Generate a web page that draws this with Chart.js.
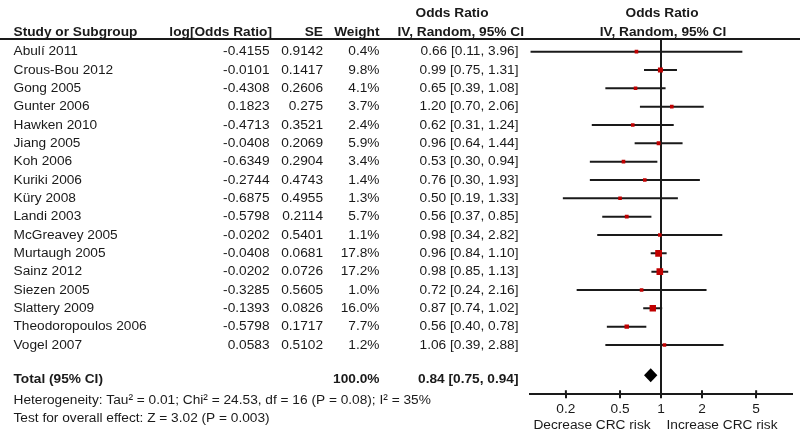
<!DOCTYPE html>
<html>
<head>
<meta charset="utf-8">
<script src="https://cdn.jsdelivr.net/npm/chart.js@4.4.0/dist/chart.umd.min.js"></script>
<style>
  body { margin: 0; background: #fff; }
  #wrap { width: 800px; height: 437px; position: relative; }
</style>
</head>
<body>
<div id="wrap"><canvas id="foret"></canvas></div>
<script>
const etudes = [
  "Abulí 2011", "Crous-Bou 2012", "Gong 2005", "Gunter 2006", "Hawken 2010",
  "Jiang 2005", "Koh 2006", "Kuriki 2006", "Küry 2008", "Landi 2003",
  "McGreavey 2005", "Murtaugh 2005", "Sainz 2012", "Siezen 2005",
  "Slattery 2009", "Theodoropoulos 2006", "Vogel 2007"
];
const logOR = ["-0.4155", "-0.0101", "-0.4308", "0.1823", "-0.4713", "-0.0408", "-0.6349",
  "-0.2744", "-0.6875", "-0.5798", "-0.0202", "-0.0408", "-0.0202", "-0.3285",
  "-0.1393", "-0.5798", "0.0583"];
const erreurStd = ["0.9142", "0.1417", "0.2606", "0.275", "0.3521", "0.2069", "0.2904",
  "0.4743", "0.4955", "0.2114", "0.5401", "0.0681", "0.0726", "0.5605",
  "0.0826", "0.1717", "0.5102"];
const poids = [0.4, 9.8, 4.1, 3.7, 2.4, 5.9, 3.4, 1.4, 1.3, 5.7, 1.1, 17.8, 17.2, 1.0, 16.0, 7.7, 1.2];
const oddsRatio = [0.66, 0.99, 0.65, 1.20, 0.62, 0.96, 0.53, 0.76, 0.50, 0.56, 0.98, 0.96, 0.98, 0.72, 0.87, 0.56, 1.06];
const icBas = [0.11, 0.75, 0.39, 0.70, 0.31, 0.64, 0.30, 0.30, 0.19, 0.37, 0.34, 0.84, 0.85, 0.24, 0.74, 0.40, 0.39];
const icHaut = [3.96, 1.31, 1.08, 2.06, 1.24, 1.44, 0.94, 1.93, 1.33, 0.85, 2.82, 1.10, 1.13, 2.16, 1.02, 0.78, 2.88];

const total = { or: 0.84, bas: 0.75, haut: 0.94, poids: "100.0%" };
const ticksX = [0.2, 0.5, 1, 2, 5];
const heterogeneite = "Heterogeneity: Tau² = 0.01; Chi² = 24.53, df = 16 (P = 0.08); I² = 35%";
const effetGlobal = "Test for overall effect: Z = 3.02 (P = 0.003)";

const ligneTotal = 17.85;
const police = "'Liberation Sans', Arial, sans-serif";
const rouge = "#c00000";
const noir = "#1a1a1a";

function fmt(v) {
  return v.toFixed(2);
}

function texte(ctx, str, x, y, align, gras) {
  ctx.font = (gras ? "bold " : "") + "13.7px " + police;
  ctx.textAlign = align;
  ctx.fillText(str, x, y);
}

const tableau = {
  id: "tableau",
  afterDraw(chart) {
    const ctx = chart.ctx;
    const sx = chart.scales.x;
    const sy = chart.scales.y;
    ctx.save();
    ctx.fillStyle = noir;
    ctx.textBaseline = "middle";

    // entetes
    texte(ctx, "Odds Ratio", 452, 13.5, "center", true);
    texte(ctx, "Odds Ratio", 662, 13.5, "center", true);
    texte(ctx, "Study or Subgroup", 13.5, 32, "left", true);
    texte(ctx, "log[Odds Ratio]", 272, 32, "right", true);
    texte(ctx, "SE", 323, 32, "right", true);
    texte(ctx, "Weight", 379.5, 32, "right", true);
    texte(ctx, "IV, Random, 95% CI", 524, 32, "right", true);
    texte(ctx, "IV, Random, 95% CI", 663, 32, "center", true);

    ctx.strokeStyle = noir;
    ctx.lineWidth = 2;
    ctx.beginPath();
    ctx.moveTo(0, 39);
    ctx.lineTo(800, 39);
    ctx.stroke();

    for (let i = 0; i < etudes.length; i++) {
      const y = sy.getPixelForValue(i);
      texte(ctx, etudes[i], 13.5, y, "left", false);
      texte(ctx, logOR[i], 269.5, y, "right", false);
      texte(ctx, erreurStd[i], 323, y, "right", false);
      texte(ctx, poids[i].toFixed(1) + "%", 379.5, y, "right", false);
      texte(ctx, fmt(oddsRatio[i]) + " [" + fmt(icBas[i]) + ", " + fmt(icHaut[i]) + "]", 518.5, y, "right", false);
    }

    const yT = sy.getPixelForValue(ligneTotal);
    texte(ctx, "Total (95% CI)", 13.5, yT, "left", true);
    texte(ctx, total.poids, 379.5, yT, "right", true);
    texte(ctx, fmt(total.or) + " [" + fmt(total.bas) + ", " + fmt(total.haut) + "]", 518.5, yT, "right", true);
    texte(ctx, heterogeneite, 13.5, 400, "left", false);
    texte(ctx, effetGlobal, 13.5, 418, "left", false);

    // losange du total
    const yD = sy.getPixelForValue(ligneTotal - 0.2);
    ctx.fillStyle = "#000";
    ctx.beginPath();
    ctx.moveTo(sx.getPixelForValue(total.bas), yD);
    ctx.lineTo(sx.getPixelForValue(total.or), yD - 7);
    ctx.lineTo(sx.getPixelForValue(total.haut), yD);
    ctx.lineTo(sx.getPixelForValue(total.or), yD + 7);
    ctx.closePath();
    ctx.fill();

    // petits traits au-dessus de l'axe
    const yAxe = chart.chartArea.bottom;
    ctx.beginPath();
    ticksX.forEach((t) => {
      const px = sx.getPixelForValue(t);
      ctx.moveTo(px, yAxe - 4);
      ctx.lineTo(px, yAxe);
    });
    ctx.stroke();

    ctx.fillStyle = noir;
    texte(ctx, "Decrease CRC risk", 592, 425, "center", false);
    texte(ctx, "Increase CRC risk", 722, 425, "center", false);
    ctx.restore();
  },
};

const datasetsIC = etudes.map((nom, i) => ({
  type: "line",
  label: nom,
  data: [{ x: icBas[i], y: i }, { x: icHaut[i], y: i }],
  borderColor: noir,
  borderWidth: 2,
  pointRadius: 0,
  order: 2,
}));

const configuration = {
  type: "scatter",
  data: {
    datasets: [
      ...datasetsIC,
      {
        type: "line",
        label: "ref",
        data: [{ x: 1, y: -0.69 }, { x: 1, y: 18.69 }],
        borderColor: noir,
        borderWidth: 2,
        pointRadius: 0,
        order: 3,
      },
      {
        label: "OR",
        data: etudes.map((nom, i) => ({ x: oddsRatio[i], y: i })),
        pointStyle: "rect",
        pointRadius: poids.map((w) => Math.max(3.6, 1.6 * Math.sqrt(w)) / Math.SQRT2),
        backgroundColor: rouge,
        borderWidth: 0,
        order: 1,
      },
    ],
  },
  options: {
    responsive: true,
    maintainAspectRatio: false,
    animation: false,
    events: [],
    layout: { padding: { left: 530, right: 8, top: 39, bottom: 0 } },
    plugins: { legend: { display: false }, tooltip: { enabled: false } },
    scales: {
      x: {
        type: "logarithmic",
        min: 0.109,
        max: 9.17,
        afterBuildTicks: (s) => {
          s.ticks = ticksX.map((v) => ({ value: v }));
        },
        afterFit: (s) => {
          s.height = 42.7;
        },
        ticks: {
          callback: (v) => String(v),
          color: noir,
          font: { family: police, size: 13.7 },
          padding: 3,
          maxRotation: 0,
          autoSkip: false,
        },
        grid: { drawOnChartArea: false, tickLength: 4, color: noir, lineWidth: 2 },
        border: { color: noir, width: 2 },
      },
      y: {
        type: "linear",
        reverse: true,
        min: -0.69,
        max: 18.69,
        display: false,
      },
    },
  },
  plugins: [tableau],
};

const graphique = document.getElementById("foret");
const chart = new Chart(graphique, configuration);
</script>
</body>
</html>
